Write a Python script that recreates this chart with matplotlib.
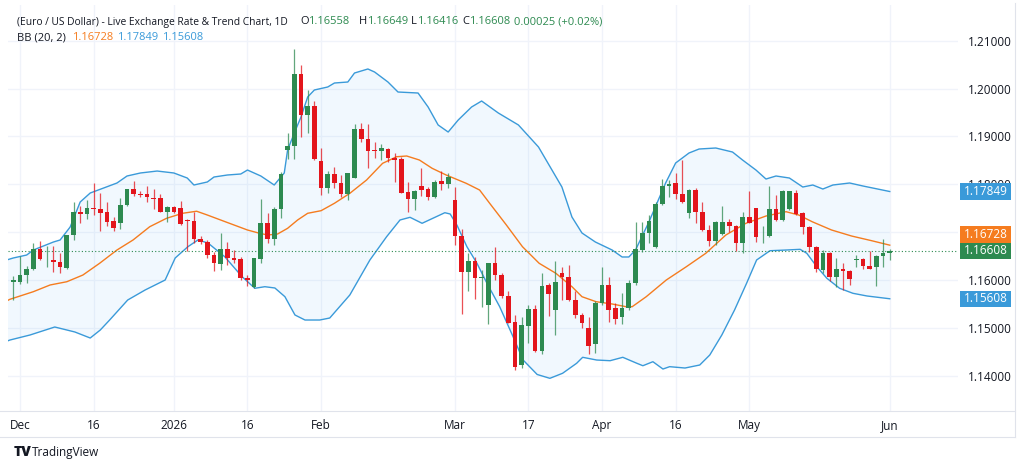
import numpy as np
import pandas as pd
import matplotlib
matplotlib.use('Agg')
import matplotlib.pyplot as plt
from matplotlib.patches import Rectangle
from matplotlib.transforms import blended_transform_factory

plt.rcParams['font.family'] = ['Open Sans', 'DejaVu Sans']

# daily bars, EUR/USD, 28 Nov 2025 .. 1 Jun 2026 (weekdays)
dates = pd.bdate_range('2025-11-28', '2026-06-01')

opens = [1.1595, 1.1596, 1.1610, 1.1624, 1.1665, 1.1643, 1.1642, 1.1638, 1.1626, 1.1694,
         1.1743, 1.1738, 1.1751, 1.1748, 1.1742, 1.1723, 1.1719, 1.1756, 1.1790, 1.1780,
         1.1780, 1.1772, 1.1771, 1.1743, 1.1753, 1.1750, 1.1726, 1.1724, 1.1686, 1.1679,
         1.1652, 1.1633, 1.1665, 1.1645, 1.1644, 1.1605, 1.1585, 1.1644, 1.1720, 1.1686,
         1.1748, 1.1872, 1.1881, 1.2030, 1.1945, 1.1964, 1.1849, 1.1792, 1.1821, 1.1803,
         1.1780, 1.1814, 1.1915, 1.1895, 1.1872, 1.1870, 1.1873, 1.1855, 1.1852, 1.1783,
         1.1769, 1.1797, 1.1790, 1.1774, 1.1807, 1.1801, 1.1767, 1.1691, 1.1616, 1.1640,
         1.1605, 1.1548, 1.1636, 1.1610, 1.1567, 1.1512, 1.1422, 1.1504, 1.1539, 1.1451,
         1.1590, 1.1537, 1.1614, 1.1607, 1.1558, 1.1527, 1.1500, 1.1466, 1.1551, 1.1590,
         1.1542, 1.1523, 1.1541, 1.1593, 1.1663, 1.1699, 1.1670, 1.1759, 1.1796, 1.1802,
         1.1779, 1.1739, 1.1788, 1.1743, 1.1705, 1.1682, 1.1696, 1.1722, 1.1713, 1.1678,
         1.1731, 1.1750, 1.1693, 1.1692, 1.1748, 1.1725, 1.1748, 1.1781, 1.1739, 1.1711,
         1.1670, 1.1621, 1.1657, 1.1606, 1.1624, 1.1619, 1.1642, 1.1643, 1.1629, 1.1627,
         1.1651, 1.16558]
highs = [1.1608, 1.1651, 1.1629, 1.1677, 1.1682, 1.1671, 1.1671, 1.1657, 1.1694, 1.1762,
         1.1755, 1.1767, 1.1803, 1.1781, 1.1762, 1.1732, 1.1771, 1.1791, 1.1806, 1.1785,
         1.1797, 1.1790, 1.1780, 1.1755, 1.1755, 1.1765, 1.1728, 1.1743, 1.1691, 1.1684,
         1.1659, 1.1698, 1.1680, 1.1663, 1.1649, 1.1610, 1.1645, 1.1769, 1.1741, 1.1753,
         1.1826, 1.1907, 1.2082, 1.2049, 1.1997, 1.1974, 1.1875, 1.1828, 1.1837, 1.1819,
         1.1824, 1.1927, 1.1929, 1.1927, 1.1889, 1.1884, 1.1875, 1.1865, 1.1858, 1.1805,
         1.1788, 1.1835, 1.1795, 1.1809, 1.1828, 1.1824, 1.1795, 1.1707, 1.1656, 1.1649,
         1.1621, 1.1636, 1.1668, 1.1614, 1.1576, 1.1527, 1.1523, 1.1548, 1.1548, 1.1615,
         1.1594, 1.1640, 1.1628, 1.1631, 1.1576, 1.1532, 1.1522, 1.1557, 1.1628, 1.1607,
         1.1551, 1.1572, 1.1600, 1.1722, 1.1722, 1.1736, 1.1764, 1.1812, 1.1809, 1.1823,
         1.1851, 1.1790, 1.1792, 1.1762, 1.1715, 1.1723, 1.1755, 1.1727, 1.1715, 1.1743,
         1.1786, 1.1750, 1.1713, 1.1796, 1.1778, 1.1788, 1.1787, 1.1788, 1.1742, 1.1713,
         1.1671, 1.1663, 1.1659, 1.1645, 1.1635, 1.1621, 1.1652, 1.1645, 1.1661, 1.1652,
         1.1685, 1.16649]
lows = [1.1558, 1.1592, 1.1593, 1.1621, 1.1642, 1.1628, 1.1617, 1.1615, 1.1624, 1.1684,
        1.1719, 1.1727, 1.1736, 1.1703, 1.1712, 1.1703, 1.1707, 1.1755, 1.1776, 1.1774,
        1.1764, 1.1748, 1.1743, 1.1722, 1.1741, 1.1715, 1.1661, 1.1677, 1.1675, 1.1645,
        1.1619, 1.1621, 1.1631, 1.1636, 1.1600, 1.1588, 1.1583, 1.1636, 1.1677, 1.1673,
        1.1729, 1.1852, 1.1852, 1.1898, 1.1908, 1.1851, 1.1778, 1.1781, 1.1792, 1.1774,
        1.1767, 1.1813, 1.1889, 1.1833, 1.1854, 1.1851, 1.1847, 1.1805, 1.1781, 1.1743,
        1.1746, 1.1776, 1.1767, 1.1771, 1.1788, 1.1792, 1.1673, 1.1530, 1.1576, 1.1560,
        1.1544, 1.1508, 1.1600, 1.1562, 1.1510, 1.1412, 1.1416, 1.1468, 1.1449, 1.1445,
        1.1525, 1.1485, 1.1558, 1.1557, 1.1520, 1.1500, 1.1445, 1.1447, 1.1548, 1.1513,
        1.1508, 1.1508, 1.1537, 1.1590, 1.1659, 1.1677, 1.1666, 1.1757, 1.1774, 1.1769,
        1.1760, 1.1729, 1.1719, 1.1702, 1.1671, 1.1673, 1.1694, 1.1701, 1.1661, 1.1657,
        1.1719, 1.1680, 1.1677, 1.1689, 1.1724, 1.1724, 1.1746, 1.1736, 1.1696, 1.1659,
        1.1617, 1.1614, 1.1597, 1.1586, 1.1579, 1.1590, 1.1628, 1.1624, 1.1623, 1.1588,
        1.1627, 1.16416]
closes = [1.1601, 1.1610, 1.1624, 1.1665, 1.1643, 1.1644, 1.1638, 1.1627, 1.1694, 1.1742,
          1.1738, 1.1751, 1.1748, 1.1739, 1.1721, 1.1708, 1.1756, 1.1790, 1.1780, 1.1777,
          1.1774, 1.1770, 1.1743, 1.1753, 1.1743, 1.1717, 1.1724, 1.1686, 1.1679, 1.1652,
          1.1635, 1.1665, 1.1645, 1.1642, 1.1604, 1.1600, 1.1645, 1.1720, 1.1686, 1.1748,
          1.1822, 1.1881, 1.2030, 1.1945, 1.1964, 1.1853, 1.1792, 1.1822, 1.1802, 1.1780,
          1.1823, 1.1916, 1.1894, 1.1870, 1.1870, 1.1875, 1.1854, 1.1851, 1.1782, 1.1769,
          1.1786, 1.1788, 1.1774, 1.1805, 1.1801, 1.1816, 1.1691, 1.1617, 1.1640, 1.1604,
          1.1606, 1.1636, 1.1610, 1.1567, 1.1511, 1.1419, 1.1505, 1.1539, 1.1451, 1.1588,
          1.1571, 1.1596, 1.1607, 1.1558, 1.1527, 1.1510, 1.1463, 1.1553, 1.1590, 1.1537,
          1.1518, 1.1541, 1.1594, 1.1664, 1.1699, 1.1723, 1.1759, 1.1796, 1.1801, 1.1779,
          1.1762, 1.1788, 1.1743, 1.1705, 1.1682, 1.1722, 1.1722, 1.1713, 1.1678, 1.1731,
          1.1720, 1.1689, 1.1695, 1.1748, 1.1725, 1.1786, 1.1785, 1.1737, 1.1710, 1.1668,
          1.1622, 1.1657, 1.1606, 1.1624, 1.1619, 1.1602, 1.1643, 1.1629, 1.1624, 1.1651,
          1.1657, 1.16608]

# Bollinger bands (20, 2), bar number counted from 1 Dec
upper_bar = [-2, -1, 1, 2, 5, 6, 7.5, 9, 10.5, 12.5, 14.5, 16, 18, 20.5, 23, 25, 26, 28, 29, 31,
             33, 34, 36, 38, 39.5, 40, 41, 42, 43, 44, 46, 47, 49, 50, 52, 53, 55, 56.5, 59.5, 61,
             62.5, 64, 65.5, 67.5, 69, 71.5, 74.5, 77.5, 81, 82.5, 84, 86, 88.5, 90, 91, 92, 94, 96.5,
             98, 100, 101.5, 104, 106.5, 108, 110, 111.5, 113, 115, 117, 118.5, 120, 121.5, 124, 126, 130]
upper_val = [1.16418, 1.16460, 1.16522, 1.16627, 1.16794, 1.16836, 1.17107, 1.17630, 1.17818, 1.17922,
             1.18027, 1.18173, 1.18236, 1.18277, 1.18236, 1.18131, 1.17985, 1.18048, 1.18152, 1.18194,
             1.18215, 1.18298, 1.18173, 1.17985, 1.18236, 1.18716, 1.19071, 1.19406, 1.19824, 1.19970,
             1.20033, 1.20116, 1.20137, 1.20325, 1.20409, 1.20346, 1.20137, 1.19928, 1.19907, 1.19615,
             1.19239, 1.19092, 1.19343, 1.19615, 1.19740, 1.19489, 1.19239, 1.18779, 1.17943, 1.17316,
             1.16982, 1.16794, 1.16627, 1.16481, 1.16481, 1.16627, 1.17212, 1.18027, 1.18445, 1.18654,
             1.18737, 1.18758, 1.18674, 1.18507, 1.18298, 1.18110, 1.18173, 1.18131, 1.17943, 1.17985,
             1.17901, 1.17985, 1.18027, 1.17964, 1.17849]
mid_bar = [-2, -1.5, 2, 4.5, 7, 9.4, 11.9, 14.5, 16.9, 19.4, 21.9, 24.3, 26.4, 28, 31, 34, 35.5, 37,
           38.5, 40, 41.5, 43, 45, 47, 49.3, 51.8, 54.2, 56.3, 57.8, 59.7, 61.6, 63.7, 66.7, 68.7,
           70.2, 72.7, 75.1, 77.6, 80.1, 82.5, 84, 86.1, 88.5, 90.6, 91.5, 93.6, 96.6, 99.6, 102.5,
           105.5, 108.5, 111.5, 114.5, 116.4, 118.4, 121.3, 124.3, 127.3, 130]
mid_val = [1.15561, 1.15597, 1.15756, 1.15896, 1.15964, 1.16104, 1.16349, 1.16627, 1.16836, 1.17114,
           1.17289, 1.17394, 1.17437, 1.17358, 1.17201, 1.17045, 1.16988, 1.16940, 1.16961, 1.17080,
           1.17254, 1.17394, 1.17448, 1.17603, 1.17811, 1.18089, 1.18438, 1.18576, 1.18591, 1.18507,
           1.18334, 1.18194, 1.18020, 1.17880, 1.17603, 1.17149, 1.16696, 1.16349, 1.16140, 1.15860,
           1.15651, 1.15547, 1.15499, 1.15442, 1.15442, 1.15651, 1.16000, 1.16278, 1.16558, 1.16940,
           1.17185, 1.17337, 1.17427, 1.17358, 1.17218, 1.17045, 1.16919, 1.16821, 1.16728]
lower_bar = [-2, -1.5, 1.5, 5.2, 8.2, 10.5, 12, 13.4, 16.1, 18.7, 21.7, 23.2, 25.1, 26.6, 28.1, 30.6,
             33.2, 35.1, 36.6, 38.1, 39.6, 41.1, 42.6, 44.8, 46.3, 49.3, 52.3, 54.8, 56.8, 58.3, 60.1,
             61.7, 63.5, 64.3, 65.3, 66.8, 68.3, 69.8, 71.7, 73.7, 75.2, 77.3, 79.2, 81.1, 83.2, 84.1,
             86.2, 88.2, 90.1, 92.2, 93.1, 94.6, 96.1, 97.1, 99.4, 101.6, 103.1, 104.9, 106.8, 108.6,
             110.1, 112.1, 114.6, 116.6, 117.6, 119.1, 120.6, 122.5, 124.5, 126.6, 130]
lower_val = [1.14720, 1.14746, 1.14851, 1.15018, 1.14914, 1.14788, 1.14955, 1.15164, 1.15582, 1.15791,
             1.16000, 1.16460, 1.16696, 1.16836, 1.16773, 1.16487, 1.16069, 1.15827, 1.15860, 1.15833,
             1.15651, 1.15269, 1.15164, 1.15164, 1.15206, 1.15687, 1.16418, 1.16905, 1.17254, 1.17310,
             1.17185, 1.17289, 1.17406, 1.17379, 1.17149, 1.16696, 1.16349, 1.15931, 1.15442, 1.14815,
             1.14328, 1.14026, 1.13946, 1.14051, 1.14260, 1.14385, 1.14328, 1.14314, 1.14385, 1.14260,
             1.14209, 1.14293, 1.14140, 1.14189, 1.14161, 1.14224, 1.14433, 1.14851, 1.15373, 1.15931,
             1.16418, 1.16612, 1.16627, 1.16641, 1.16558, 1.16278, 1.16036, 1.15827, 1.15722, 1.15666,
             1.15608]

tick_dates = ['2025-12-01', '2025-12-16', '2026-01-01', '2026-01-16', '2026-02-02', '2026-03-02',
              '2026-03-17', '2026-04-01', '2026-04-16', '2026-05-01', '2026-06-01']
tick_labels = ['Dec', '16', '2026', '16', 'Feb', 'Mar', '17', 'Apr', '16', 'May', 'Jun']

GREEN = '#2d8a50'
RED = '#e3151c'
BLUE = '#3a9ad9'
ORANGE = '#f57c1f'
TXT = '#131722'

W, H = 1024, 469
fig = plt.figure(figsize=(W / 100, H / 100), dpi=100)
fig.patch.set_facecolor('white')
ax = fig.add_axes([8 / W, 1 - 411 / H, 950 / W, 406 / H])

o = np.array(opens); h = np.array(highs); l = np.array(lows); c = np.array(closes)
x = np.arange(len(o)) - 1          # bar 0 = 1 Dec
up = c >= o
cols = np.where(up, GREEN, RED)

# band fill + lines
poly_x = list(upper_bar) + list(lower_bar[::-1])
poly_y = list(upper_val) + list(lower_val[::-1])
ax.fill(poly_x, poly_y, color='#2196f3', alpha=0.06, lw=0, zorder=1)
ax.plot(upper_bar, upper_val, color=BLUE, lw=1.0, zorder=2)
ax.plot(lower_bar, lower_val, color=BLUE, lw=1.0, zorder=2)
ax.plot(mid_bar, mid_val, color=ORANGE, lw=1.0, zorder=2)

# candles
ax.vlines(x, l, h, colors=cols, lw=0.9, alpha=0.75, zorder=3)
body_lo = np.minimum(o, c)
body_h = np.maximum(np.abs(c - o), 0.00018)
ax.bar(x, body_h, bottom=body_lo, width=0.7, color=cols, lw=0, zorder=4)

# last price dotted line
ax.axhline(c[-1], color=GREEN, lw=0.8, ls=(0, (1, 2)), zorder=2)

ax.set_xlim(-1.79, 140.2)
ax.set_ylim(1.13263, 1.21746)

yt = np.arange(1.14, 1.2101, 0.01)
ax.set_yticks(yt)
# 1.17000 sits fully under the orange/green price boxes, as in the original
ax.set_yticklabels(['' if abs(v - 1.17) < 1e-6 else '%.5f' % v for v in yt])
ax.yaxis.tick_right()
xt = [dates.get_loc(pd.Timestamp(d)) - 1 for d in tick_dates]
ax.set_xticks(xt)
ax.set_xticklabels(tick_labels)
ax.tick_params(axis='y', length=0, pad=7, labelsize=8.5, labelcolor=TXT)
ax.tick_params(axis='x', length=0, pad=6, labelsize=8.5, labelcolor=TXT)
ax.grid(True, color='#f0f3fa', lw=1.0, zorder=0)
ax.set_axisbelow(True)
for s in ax.spines.values():
    s.set_visible(False)

# price scale labels
tr = blended_transform_factory(ax.transAxes, ax.transData)
box_h = 16.5 / 406 * (1.21746 - 1.13263)
bx0 = (960 - 8) / 950
bw = 51 / 950
green_y = c[-1]
labels = [(upper_val[-1], upper_val[-1], BLUE),
          (mid_val[-1], green_y + box_h, ORANGE),
          (c[-1], green_y, GREEN),
          (lower_val[-1], lower_val[-1], BLUE)]
for val, ypos, col in labels:
    ax.add_patch(Rectangle((bx0, ypos - box_h / 2), bw, box_h, transform=tr, facecolor=col,
                           edgecolor='none', clip_on=False, zorder=10))
    ax.text(bx0 + bw / 2, ypos, '%.5f' % val, transform=tr, ha='center', va='center',
            color='white', fontsize=8.5, zorder=11, clip_on=False)

# header
fig.canvas.draw()
rend = fig.canvas.get_renderer()


def pieces(x0, ypix, parts, size=8.0):
    xp = x0
    for s, col in parts:
        t = fig.text(xp / W, 1 - ypix / H, s, color=col, fontsize=size, ha='left', va='center')
        xp += t.get_window_extent(rend).width


chg = '%.5f (+%.2f%%)' % (0.00025, 0.02)
pieces(17, 22, [('(Euro / US Dollar) - Live Exchange Rate & Trend Chart, 1D', TXT)], 7.4)
pieces(300, 22, [('O', TXT), ('%.5f' % o[-1], GREEN)])
pieces(359, 22, [('H', TXT), ('%.5f' % h[-1], GREEN)])
pieces(411, 22, [('L', TXT), ('%.5f' % l[-1], GREEN)])
pieces(462, 22, [('C', TXT), ('%.5f' % c[-1], GREEN)])
pieces(514, 22, [(chg, GREEN)])
pieces(17, 38, [('BB (20, 2)', TXT)])
pieces(72, 38, [('%.5f' % mid_val[-1], ORANGE)])
pieces(117, 38, [('%.5f' % upper_val[-1], BLUE)])
pieces(162, 38, [('%.5f' % lower_val[-1], BLUE)])

# frame lines
fig.add_artist(plt.Line2D([0, 1015 / W], [1 - 411 / H] * 2, color='#e0e3eb', lw=0.8))
fig.add_artist(plt.Line2D([0, 1015 / W], [1 - 437 / H] * 2, color='#e0e3eb', lw=0.8))
fig.add_artist(plt.Line2D([1015 / W] * 2, [1 - 437 / H, 1 - 3 / H], color='#e0e3eb', lw=0.8))

# logo
fig.text(14 / W, 1 - 452 / H, 'TV', fontsize=10, fontweight='heavy', color=TXT, ha='left', va='center')
fig.text(32 / W, 1 - 452 / H, 'TradingView', fontsize=8.5, color=TXT, ha='left', va='center')

fig.savefig('out.png', dpi=100, facecolor='white')
